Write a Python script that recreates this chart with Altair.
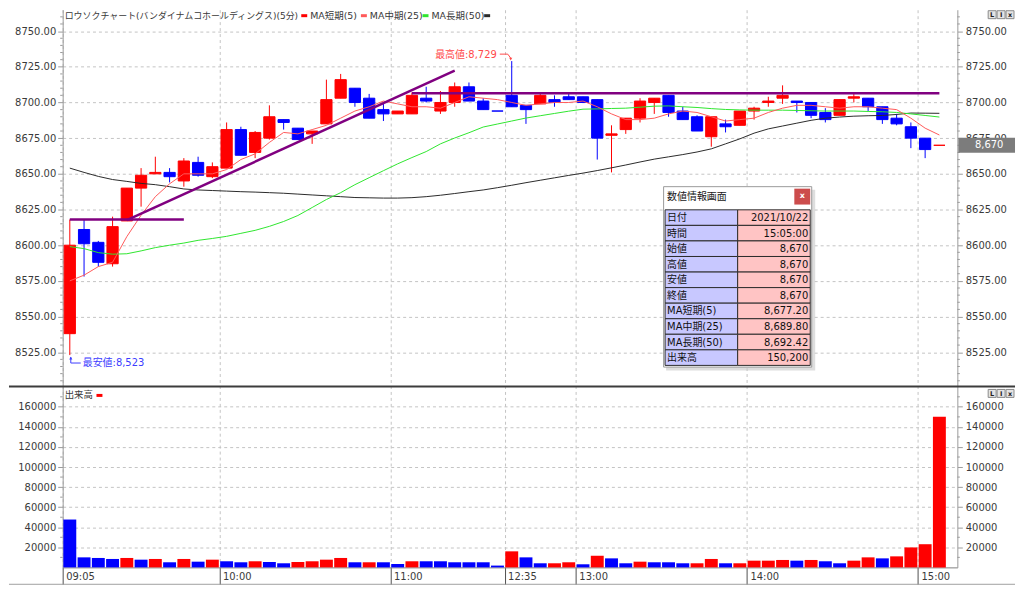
import altair as alt
import pandas as pd

# ---------------- data ----------------
bar_index = list(range(1, 63))
opens = [8538, 8611, 8602, 8587, 8617, 8640, 8650, 8651, 8645, 8658,
         8648, 8654, 8681, 8665, 8675, 8688, 8682, 8678, 8685, 8703,
         8710, 8703, 8695, 8692, 8692, 8703, 8694, 8700, 8711, 8701,
         8694, 8705, 8698, 8699, 8702, 8704, 8704, 8702, 8677, 8681,
         8689, 8700, 8705, 8694, 8690, 8676, 8685, 8684, 8694, 8700,
         8703, 8701, 8700, 8693, 8691, 8703, 8703, 8697, 8689, 8683,
         8675, 8670]
highs = [8618, 8618, 8603, 8620, 8640, 8654, 8662, 8654, 8661, 8662,
         8658, 8686, 8683, 8680, 8698, 8688, 8682, 8680, 8716, 8720,
         8710, 8706, 8699, 8694, 8707, 8711, 8708, 8714, 8714, 8703,
         8694, 8729, 8698, 8706, 8705, 8706, 8704, 8702, 8684, 8689,
         8703, 8703, 8705, 8697, 8691, 8690, 8688, 8694, 8697, 8704,
         8712, 8701, 8700, 8696, 8702, 8707, 8703, 8697, 8692, 8686,
         8675, 8670]
lows = [8523, 8578, 8585, 8585, 8617, 8627, 8650, 8644, 8641, 8648,
        8647, 8654, 8663, 8661, 8674, 8681, 8674, 8671, 8685, 8703,
        8697, 8689, 8687, 8692, 8692, 8700, 8692, 8697, 8701, 8695,
        8694, 8697, 8685, 8699, 8697, 8702, 8700, 8660, 8651, 8678,
        8686, 8692, 8690, 8688, 8680, 8669, 8679, 8684, 8688, 8697,
        8699, 8693, 8689, 8686, 8691, 8700, 8694, 8685, 8684, 8668,
        8661, 8670]
closes = [8600, 8601, 8588, 8613, 8640, 8649, 8651, 8648, 8659, 8649,
          8655, 8681, 8663, 8679, 8690, 8686, 8674, 8680, 8702, 8716,
          8700, 8689, 8692, 8694, 8705, 8701, 8700, 8711, 8701, 8695,
          8694, 8697, 8695, 8705, 8700, 8702, 8700, 8675, 8678, 8689,
          8701, 8703, 8693, 8688, 8680, 8690, 8683, 8694, 8696, 8701,
          8705, 8700, 8691, 8688, 8702, 8704, 8697, 8688, 8685, 8675,
          8667, 8670]
U, D = "up", "down"
candle_dir = [U, D, D, U, U, U, U, D, U, D,
              U, U, D, U, U, D, D, U, U, U,
              D, D, D, U, U, D, U, U, D, D,
              D, D, D, U, D, D, D, D, U, U,
              U, U, D, D, D, U, D, U, U, U,
              U, D, D, D, U, U, D, D, D, D,
              D, U]
volumes = [47700, 10000, 9400, 8400, 9400, 7700, 8400, 5100, 8400, 5700,
           7700, 6100, 5100, 6100, 5400, 4100, 5400, 6100, 7700, 9400,
           5100, 5100, 5100, 3400, 6100, 6100, 6100, 5100, 5100, 5100,
           1800, 16000, 10000, 4100, 4100, 5100, 3100, 11600, 9000, 4100,
           5700, 5100, 5100, 4100, 4100, 8400, 4100, 4100, 6700, 6700,
           7400, 6700, 7400, 6100, 4100, 6700, 10000, 9000, 11000, 19900,
           23100, 150200]
volume_dir = [D, D, D, D, U, D, U, D, U, D,
              U, D, D, U, D, D, U, U, U, U,
              D, U, D, D, U, D, D, D, D, D,
              D, U, D, D, U, U, D, U, D, D,
              U, D, D, D, U, U, D, U, U, U,
              U, D, U, D, D, U, U, D, U, U,
              U, U]
ma_short = [8575, 8579, 8585, 8588, 8606, 8621, 8634, 8643, 8650, 8650,
            8650, 8653, 8660, 8664, 8672, 8679, 8678, 8681, 8684, 8689,
            8694, 8697, 8701, 8699, 8697, 8697, 8696, 8700, 8704, 8703,
            8702, 8700, 8698, 8699, 8700, 8700, 8701, 8697, 8692, 8688,
            8688, 8689, 8692, 8694, 8693, 8690, 8687, 8688, 8689, 8693,
            8696, 8698, 8698, 8697, 8696, 8697, 8697, 8696, 8695, 8689,
            8682, 8677.2]
ma_mid = [8599, 8597.6, 8594.8, 8593.7, 8594, 8596, 8598.3, 8600, 8601.5, 8603.4,
          8604.7, 8606.2, 8608.3, 8610.4, 8613.2, 8616.6, 8620.8, 8626.4, 8632, 8636.8,
          8642.4, 8647.3, 8652.2, 8657, 8661.4, 8665.6, 8671, 8675.1, 8678.8, 8682.8,
          8684.9, 8687, 8689.1, 8690.7, 8692.3, 8693.9, 8695.3, 8695.5, 8695.8, 8696,
          8696.7, 8697.4, 8697.6, 8697, 8696.5, 8695.7, 8695.1, 8694.8, 8694.6, 8694.6,
          8694.6, 8694.4, 8694.2, 8694, 8694, 8694, 8693.7, 8693.5, 8693, 8692,
          8690.9, 8689.8]
ma_long = [8654, 8651, 8648.2, 8646, 8644.7, 8643.3, 8642.4, 8641, 8639.4, 8638.7,
           8638.3, 8637.9, 8637.5, 8637.2, 8636.8, 8636.4, 8635.8, 8635.2, 8634.6, 8634,
           8633.4, 8633.2, 8633, 8633, 8633.3, 8634, 8635, 8636.2, 8637.5, 8638.7,
           8640.3, 8642, 8643.8, 8645.5, 8647.2, 8648.9, 8650.5, 8652.3, 8654.2, 8656.2,
           8658.3, 8660.3, 8661.9, 8663.5, 8665.3, 8667.5, 8671, 8674.5, 8678.5, 8681.5,
           8683.5, 8685.5, 8687.5, 8689, 8689.8, 8690.4, 8690.7, 8690.9, 8691.6, 8692.6,
           8692.5, 8692.4]

time_tick_pos = [0.5, 11.5, 23.5, 31.5, 36.5, 48.5, 60.5]
time_labels = ["09:05", "10:00", "11:00", "12:35", "13:00", "14:00", "15:00"]
price_ticks = [8525, 8550, 8575, 8600, 8625, 8650, 8675, 8700, 8725, 8750]
volume_ticks = [20000, 40000, 60000, 80000, 100000, 120000, 140000, 160000]
price_minor_ticks = [p for p in range(8505, 8765, 5) if p % 25]
volume_minor_ticks = [10000 + 20000 * k for k in range(9)]

trend_start_bar = [1, 5, 25]
trend_start_price = [8618, 8617.5, 8706.5]
trend_end_bar = [9, 28, 62]
trend_end_price = [8618, 8722.3, 8706.5]

high_mark_bar = [32]
high_mark_price = [8729]
high_mark_text = ["最高値:8,729"]
low_mark_bar = [1]
low_mark_price = [8523]
low_mark_text = ["最安値:8,523"]
last_bar = [62]
last_price = [8670]
last_price_text = ["8,670"]

chart_title = "ロウソクチャート(バンダイナムコホールディングス)(5分)"
series_names = ["MA短期(5)", "MA中期(25)", "MA長期(50)"]
volume_title = "出来高"

info_title = "数値情報画面"
info_labels = ["日付", "時間", "始値", "高値", "安値", "終値",
               "MA短期(5)", "MA中期(25)", "MA長期(50)", "出来高"]
info_values = ["2021/10/22", "15:05:00", "8,670", "8,670", "8,670", "8,670",
               "8,677.20", "8,689.80", "8,692.42", "150,200"]

# ---------------- styles / layout ----------------
W = 900
H_PRICE = 378
H_VOL = 183
X_DOMAIN = [0.5, 63.26]
PRICE_DOMAIN = [8501.7, 8765.0]
VOL_DOMAIN = [0, 181300]
FONT = "DejaVu Sans, Noto Sans CJK JP"
AX_FS = 10
RED = "#ff0000"
BLUE = "#0000ff"
GRID = "#c4c4c4"
AXC = "#9a9a9a"
LBL = "#3a3a3a"
PURPLE = "#800080"
MA_COLORS = ["#ff5a5a", "#2ee62e", "#2a2a2a"]

df = pd.DataFrame({
    "i": bar_index, "open": opens, "high": highs, "low": lows, "close": closes,
    "dir": candle_dir, "vol": volumes, "vdir": volume_dir,
    "ma5": ma_short, "ma25": ma_mid, "ma50": ma_long,
})
ONE = pd.DataFrame({"k": [0]})

xs = alt.Scale(domain=X_DOMAIN, nice=False, zero=False, padding=0)
ys = alt.Scale(domain=PRICE_DOMAIN, nice=False, zero=False, padding=0)
vs = alt.Scale(domain=VOL_DOMAIN, nice=False, zero=False, padding=0)
dir_scale = alt.Scale(domain=[U, D], range=[RED, BLUE])

label_expr = "''"
for pos, lab in reversed(list(zip(time_tick_pos, time_labels))):
    label_expr = f"abs(datum.value - {pos}) < 0.01 ? '{lab}' : ({label_expr})"

x_axis_price = alt.Axis(values=time_tick_pos, labels=False, ticks=False, domain=False,
                        grid=True, gridColor=GRID, gridDash=[3, 3], title=None,
                        minExtent=0, maxExtent=0)
x_axis_vol = alt.Axis(values=time_tick_pos, labelExpr=label_expr, grid=True, gridColor=GRID,
                      gridDash=[3, 3], title=None, tickSize=17, tickColor="#505050",
                      domainColor="#808080", labelAlign="left", labelBaseline="middle",
                      labelPadding=-8, labelOffset=3, labelFlush=False, labelOverlap=False,
                      labelFont=FONT, labelFontSize=AX_FS, labelColor=LBL)


def y_axis(orient, values, fmt, grid):
    kw = dict(orient=orient, values=values, format=fmt, title=None, grid=grid,
              tickSize=5, tickColor=AXC, domainColor=AXC, labelFont=FONT,
              labelFontSize=AX_FS, labelColor=LBL, labelPadding=2 if orient == "left" else 3)
    if grid:
        kw.update(gridColor=GRID, gridDash=[3, 3])
    if orient == "left":
        kw.update(minExtent=54, maxExtent=54)
    return alt.Axis(**kw)


y_left = y_axis("left", price_ticks, ".2f", True)
y_right = y_axis("right", price_ticks, ".2f", False)
v_left = y_axis("left", volume_ticks, "d", True)
v_right = y_axis("right", volume_ticks, "d", False)


def XP(f):
    return alt.X(f, type="quantitative", scale=xs, axis=x_axis_price)


def YP(f):
    return alt.Y(f, type="quantitative", scale=ys, axis=y_left)


def XV(f):
    return alt.X(f, type="quantitative", scale=xs, axis=x_axis_vol)


def vtext(txt, x, y, size=9.5, color=LBL, align="left", weight="normal"):
    return alt.Chart(ONE).mark_text(align=align, baseline="middle", font=FONT, fontSize=size,
                                    color=color, fontWeight=weight).encode(
        x=alt.value(x), y=alt.value(y), text=alt.value(txt))


def vrect(x, x2, y, y2, fill, stroke="", opacity=1.0):
    kw = dict(fill=fill, opacity=opacity)
    if stroke:
        kw.update(stroke=stroke, strokeWidth=1)
    return alt.Chart(ONE).mark_rect(**kw).encode(
        x=alt.value(x), x2=alt.value(x2), y=alt.value(y), y2=alt.value(y2))


def buttons(x0, y0):
    out = []
    for k, ch in enumerate(["L", "I", "x"]):
        bx = x0 + k * 9
        out.append(vrect(bx, bx + 8, y0, y0 + 8, "#e4e4e4", "#8a8a8a"))
        out.append(vtext(ch, bx + 4, y0 + 4.5, size=6.5, color="#202020", align="center", weight="bold"))
    return out


# ---------------- price panel ----------------
wick = alt.Chart(df).mark_rule(strokeWidth=1).encode(
    x=XP("i"), y=YP("low"), y2=alt.Y2("high"),
    stroke=alt.Stroke("dir:N", scale=dir_scale, legend=None))
body = alt.Chart(df).mark_bar(size=11.3, strokeWidth=1).encode(
    x=XP("i"), y=YP("open"), y2=alt.Y2("close"),
    fill=alt.Fill("dir:N", scale=dir_scale, legend=None),
    stroke=alt.Stroke("dir:N", scale=dir_scale, legend=None))
ma_lines = [
    alt.Chart(df).mark_line(color=MA_COLORS[2], strokeWidth=1).encode(x=XP("i"), y=YP("ma50")),
    alt.Chart(df).mark_line(color=MA_COLORS[1], strokeWidth=1).encode(x=XP("i"), y=YP("ma25")),
    alt.Chart(df).mark_line(color=MA_COLORS[0], strokeWidth=1).encode(x=XP("i"), y=YP("ma5")),
]
df_trend = pd.DataFrame({"xa": trend_start_bar, "ya": trend_start_price,
                         "xb": trend_end_bar, "yb": trend_end_price})
trend = alt.Chart(df_trend).mark_rule(color=PURPLE, strokeWidth=2.5).encode(
    x=XP("xa"), x2=alt.X2("xb"), y=YP("ya"), y2=alt.Y2("yb"))

df_hi = pd.DataFrame({"i": high_mark_bar, "p": high_mark_price, "t": high_mark_text})
HI_C = "#ff4a4a"
hi_text = alt.Chart(df_hi).mark_text(align="right", baseline="middle", dx=-15, dy=-6,
                                     font=FONT, fontSize=10, color=HI_C).encode(
    x=XP("i"), y=YP("p"), text="t:N")
hi_a1 = alt.Chart(df_hi).mark_rule(color=HI_C, strokeWidth=1, xOffset=-12, x2Offset=-4,
                                   yOffset=-7, y2Offset=-7).encode(
    x=XP("i"), x2=alt.X2("i"), y=YP("p"), y2=alt.Y2("p"))
hi_a2 = alt.Chart(df_hi).mark_rule(color=HI_C, strokeWidth=1, xOffset=-4, x2Offset=-1,
                                   yOffset=-7, y2Offset=-3).encode(
    x=XP("i"), x2=alt.X2("i"), y=YP("p"), y2=alt.Y2("p"))
hi_head = alt.Chart(df_hi).mark_point(shape="triangle-down", filled=True, size=10, opacity=1,
                                      color=HI_C, xOffset=-1, yOffset=-2).encode(
    x=XP("i"), y=YP("p"))

df_lo = pd.DataFrame({"i": low_mark_bar, "p": low_mark_price, "t": low_mark_text})
LO_C = "#3c3cff"
lo_text = alt.Chart(df_lo).mark_text(align="left", baseline="middle", dx=13, dy=8,
                                     font=FONT, fontSize=10, color=LO_C).encode(
    x=XP("i"), y=YP("p"), text="t:N")
lo_a1 = alt.Chart(df_lo).mark_rule(color=LO_C, strokeWidth=1, xOffset=1, x2Offset=1,
                                   yOffset=2, y2Offset=8).encode(
    x=XP("i"), x2=alt.X2("i"), y=YP("p"), y2=alt.Y2("p"))
lo_a2 = alt.Chart(df_lo).mark_rule(color=LO_C, strokeWidth=1, xOffset=1, x2Offset=11,
                                   yOffset=8, y2Offset=8).encode(
    x=XP("i"), x2=alt.X2("i"), y=YP("p"), y2=alt.Y2("p"))
lo_head = alt.Chart(df_lo).mark_point(shape="triangle-up", filled=True, size=10, opacity=1,
                                      color=LO_C, xOffset=1, yOffset=3).encode(
    x=XP("i"), y=YP("p"))

df_last = pd.DataFrame({"i": last_bar, "p": last_price, "t": last_price_text})
tag_rect = alt.Chart(df_last).mark_rect(color="#7c7c7c", yOffset=-7.5, y2Offset=7.5).encode(
    x=alt.value(W + 1), x2=alt.value(W + 58), y=YP("p"), y2=alt.Y2("p"))
tag_text = alt.Chart(df_last).mark_text(color="white", align="center", baseline="middle",
                                        font=FONT, fontSize=AX_FS).encode(
    x=alt.value(W + 32), y=YP("p"), text="t:N")

df_pminor = pd.DataFrame({"p": price_minor_ticks})
pminor_l = alt.Chart(df_pminor).mark_rule(color=AXC).encode(
    x=alt.value(-2.5), x2=alt.value(0), y=YP("p"))
pminor_r = alt.Chart(df_pminor).mark_rule(color=AXC).encode(
    x=alt.value(W), x2=alt.value(W + 2.5), y=YP("p"))

# legend row at the top
LEG_Y = 6
legend = [vtext(chart_title, 2, LEG_Y, size=9)]
legend_x = [240, 300, 362, 424]
legend_colors = [RED, MA_COLORS[0], MA_COLORS[1], MA_COLORS[2]]
for k, (mx, mc) in enumerate(zip(legend_x, legend_colors)):
    legend.append(vrect(mx, mx + 6, LEG_Y - 1.5, LEG_Y + 1.5, mc))
    if k < 3:
        legend.append(vtext(series_names[k], mx + 9, LEG_Y))

price_main = alt.layer(
    pminor_l, pminor_r, body, wick, *ma_lines, trend,
    hi_a1, hi_a2, hi_head, hi_text, lo_a1, lo_a2, lo_head, lo_text,
    tag_rect, tag_text, *legend, *buttons(931, 1),
)
price_right = alt.Chart(df).mark_point(opacity=0).encode(
    x=XP("i"), y=alt.Y("close", type="quantitative", scale=ys, axis=y_right))

# info window (pixel layout inside the price panel)
ROW_TOP = 201.3
ROW_H = 15.65
df_info = pd.DataFrame({
    "label": info_labels, "value": info_values,
    "top": [ROW_TOP + k * ROW_H for k in range(len(info_labels))],
})
df_info["bottom"] = df_info["top"] + ROW_H
df_info["mid"] = df_info["top"] + ROW_H / 2 + 0.5
ty = alt.Scale(domain=[H_PRICE, 0], nice=False, zero=False)
TY = alt.Y("top:Q", scale=ty, axis=None)
cells_l = alt.Chart(df_info).mark_rect(fill="#c8c8ff", stroke="#2c2c2c", strokeWidth=1).encode(
    x=alt.value(606), x2=alt.value(679), y=TY, y2=alt.Y2("bottom"))
cells_r = alt.Chart(df_info).mark_rect(fill="#ffc4c4", stroke="#2c2c2c", strokeWidth=1).encode(
    x=alt.value(679), x2=alt.value(752), y=TY, y2=alt.Y2("bottom"))
txt_l = alt.Chart(df_info).mark_text(align="left", baseline="middle", font=FONT, fontSize=10,
                                     color="#101010").encode(
    x=alt.value(608), y=alt.Y("mid:Q", scale=ty, axis=None), text="label:N")
txt_r = alt.Chart(df_info).mark_text(align="right", baseline="middle", font=FONT, fontSize=10,
                                     color="#101010").encode(
    x=alt.value(750), y=alt.Y("mid:Q", scale=ty, axis=None), text="value:N")
info = alt.layer(
    vrect(607, 757, 181, 363, "#c8c8c8", opacity=0.6),
    vrect(604.5, 753.5, 178, 359.5, "white", "#9a9a9a"),
    vtext(info_title, 608, 188.7, size=10, color="#202020"),
    vrect(736, 752, 180, 196, "#cc4c4c"),
    vtext("x", 744, 187.5, size=8, color="white", align="center", weight="bold"),
    cells_l, cells_r, txt_l, txt_r,
)

price_panel = alt.layer(price_main, price_right, info).resolve_scale(y="independent").properties(
    width=W, height=H_PRICE)

# ---------------- volume panel ----------------
def YV(f):
    return alt.Y(f, type="quantitative", scale=vs, axis=v_left, stack=None)


vol_bars = alt.Chart(df).mark_bar(size=13).encode(
    x=XV("i"), y=YV("vol"), fill=alt.Fill("vdir:N", scale=dir_scale, legend=None))
df_vminor = pd.DataFrame({"v": volume_minor_ticks})
vminor_l = alt.Chart(df_vminor).mark_rule(color=AXC).encode(
    x=alt.value(-2.5), x2=alt.value(0), y=YV("v"))
vminor_r = alt.Chart(df_vminor).mark_rule(color=AXC).encode(
    x=alt.value(W), x2=alt.value(W + 2.5), y=YV("v"))
separator = alt.Chart(ONE).mark_rule(color="#3c3c3c", strokeWidth=2).encode(
    x=alt.value(-54), x2=alt.value(W + 58), y=alt.value(1))
bottom_line = alt.Chart(ONE).mark_rule(color="#a0a0a0", strokeWidth=1).encode(
    x=alt.value(-54), x2=alt.value(W + 58), y=alt.value(H_VOL + 17))
vol_main = alt.layer(
    vminor_l, vminor_r, vol_bars, separator, bottom_line,
    vtext(volume_title, 2, 10),
    vrect(34, 40, 8.5, 11.5, RED),
    *buttons(931, 4),
)
vol_right = alt.Chart(df).mark_point(opacity=0).encode(
    x=XV("i"), y=alt.Y("vol", type="quantitative", scale=vs, axis=v_right))
vol_panel = alt.layer(vol_main, vol_right).resolve_scale(y="independent").properties(
    width=W, height=H_VOL)

chart = alt.vconcat(price_panel, vol_panel, spacing=0).properties(
    padding=0, background="white").configure_view(stroke=None)

chart.save("out.html", embed_options={"renderer": "svg", "actions": False})
